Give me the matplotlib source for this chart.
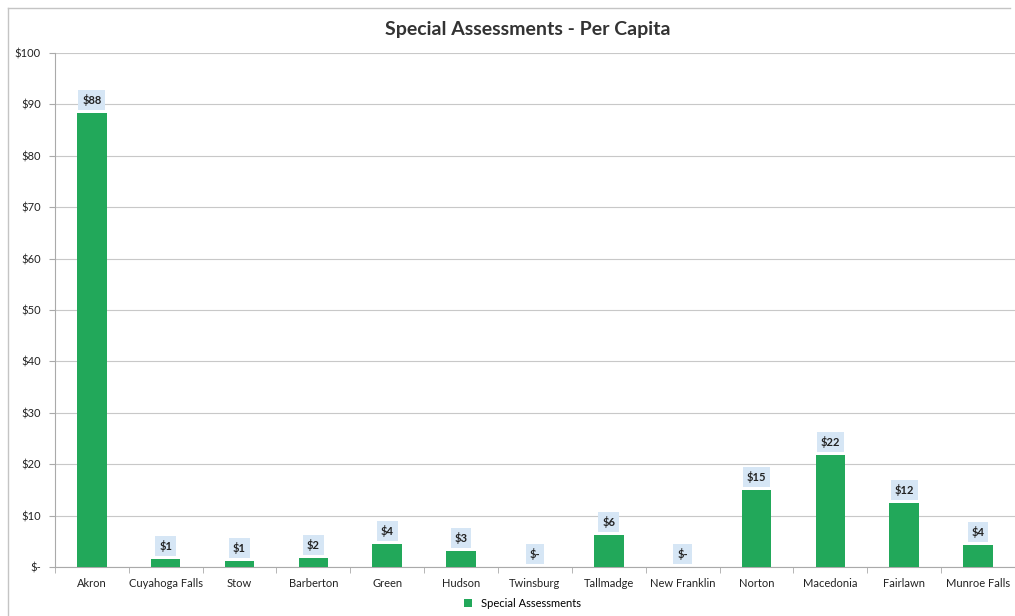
import matplotlib.pyplot as plt
from matplotlib.lines import Line2D

cities = ['Akron', 'Cuyahoga Falls', 'Stow', 'Barberton', 'Green', 'Hudson',
          'Twinsburg', 'Tallmadge', 'New Franklin', 'Norton', 'Macedonia',
          'Fairlawn', 'Munroe Falls']
per_capita = [88.3, 1.5, 1.2, 1.7, 4.5, 3.1, 0, 6.2, 0, 15.0, 21.8, 12.4, 4.3]
labels = ['$88', '$1', '$1', '$2', '$4', '$3', '$-', '$6', '$-', '$15', '$22', '$12', '$4']
yticks = [0, 10, 20, 30, 40, 50, 60, 70, 80, 90, 100]
ytick_labels = ['$-', '$10', '$20', '$30', '$40', '$50', '$60', '$70', '$80', '$90', '$100']

plt.rcParams['font.family'] = ['Lato', 'DejaVu Sans']

fig = plt.figure(figsize=(10.15, 6.16), dpi=100)
# outer chart border (left and top edges only, the rest is cut off in the scan)
fig.lines.append(Line2D([0.008, 0.008], [0.0, 0.987], transform=fig.transFigure,
                        color='#c4c4c4', linewidth=1.0))
fig.lines.append(Line2D([0.008, 0.995], [0.987, 0.987], transform=fig.transFigure,
                        color='#c4c4c4', linewidth=1.0))
ax = fig.add_axes([0.054, 0.0795, 0.946, 0.8345])

x = range(len(cities))
ax.bar(x, per_capita, width=0.4, color='#22a85a', zorder=3, label='Special Assessments')

for i, (v, lab) in enumerate(zip(per_capita, labels)):
    ax.annotate(lab, (i, v), xytext=(0, 5), textcoords='offset points',
                ha='center', va='bottom', fontsize=8, fontweight='bold', color='#222222',
                bbox=dict(boxstyle='square,pad=0.35', facecolor='#d6e6f5', edgecolor='none'),
                zorder=4)

ax.set_xlim(-0.5, len(cities) - 0.5)
ax.set_ylim(0, 100)
ax.set_yticks(yticks)
ax.set_yticklabels(ytick_labels)
ax.set_xticks(list(x))
ax.set_xticklabels(cities)
ax.set_xticks([i + 0.5 for i in range(-1, len(cities) - 1)], minor=True)
ax.tick_params(axis='x', which='major', length=0, pad=8, labelsize=8, colors='#222222')
ax.tick_params(axis='x', which='minor', length=4, color='#aaaaaa')
ax.tick_params(axis='y', length=4, color='#aaaaaa', labelsize=8, labelcolor='#222222', pad=6)
ax.grid(axis='y', color='#c8c8c8', linewidth=0.8, zorder=0)

for s in ['top', 'right']:
    ax.spines[s].set_visible(False)
ax.spines['left'].set_color('#aaaaaa')
ax.spines['bottom'].set_color('#aaaaaa')

fig.text(0.52, 0.952, 'Special Assessments - Per Capita', ha='center', va='center',
         fontsize=14, fontweight='bold', color='#333333')

fig.legend(loc='center', bbox_to_anchor=(0.515, 0.02), frameon=False, fontsize=8,
           handlelength=0.7, handleheight=0.7)

fig.savefig('out.png', dpi=100, facecolor='white')
